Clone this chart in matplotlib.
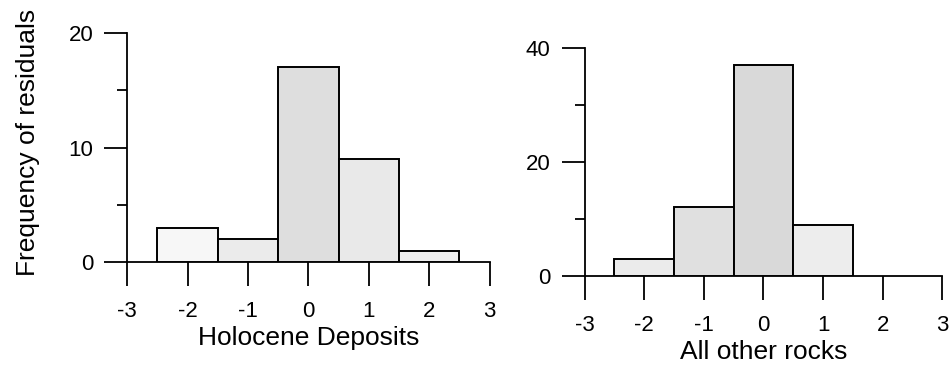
import matplotlib.pyplot as plt
from matplotlib.ticker import MultipleLocator

plt.rcParams['font.family'] = ['Liberation Sans', 'DejaVu Sans']

# residual classes (bin centres) and counts
holocene_bins = [-2, -1, 0, 1, 2]
holocene_counts = [3, 2, 17, 9, 1]
holocene_fill = ["#f7f7f7", "#ebebeb", "#dedede", "#e9e9e9", "#eeeeee"]

other_bins = [-2, -1, 0, 1]
other_counts = [3, 12, 37, 9]
other_fill = ["#ebebeb", "#e0e0e0", "#d9d9d9", "#ededed"]

xticks = [-3, -2, -1, 0, 1, 2, 3]

fig = plt.figure(figsize=(9.49, 3.81), dpi=100)
ax1 = fig.add_axes([0.134, 0.312, 0.382, 0.601])
ax2 = fig.add_axes([0.616, 0.276, 0.377, 0.598])


def style_axis(ax, ymax, ymajor, yminor, xlabel):
    ax.set_xlim(-3, 3)
    ax.set_ylim(0, ymax)
    for s in ["top", "right"]:
        ax.spines[s].set_visible(False)
    for s in ["left", "bottom"]:
        ax.spines[s].set_linewidth(1.3)
    ax.set_xticks(xticks)
    ax.set_xticklabels([str(t) for t in xticks])
    ax.yaxis.set_major_locator(MultipleLocator(ymajor))
    ax.yaxis.set_minor_locator(MultipleLocator(yminor))
    ax.tick_params(axis="x", direction="out", length=17, width=1.3,
                   pad=11, labelsize=16)
    ax.tick_params(axis="y", which="major", direction="out", length=16.5,
                   width=1.3, pad=8, labelsize=16)
    ax.tick_params(axis="y", which="minor", direction="out", length=7,
                   width=1.3)
    ax.set_xlabel(xlabel, fontsize=19, labelpad=3)


ax1.bar(holocene_bins, holocene_counts, width=1, color=holocene_fill,
        edgecolor="black", linewidth=1.4, zorder=3)
style_axis(ax1, 20, 10, 5, "Holocene Deposits")

ax2.bar(other_bins, other_counts, width=1, color=other_fill,
        edgecolor="black", linewidth=1.4, zorder=3)
style_axis(ax2, 40, 20, 10, "All other rocks")

fig.text(0.029, 0.627, "Frequency of residuals", rotation=90,
         ha="center", va="center", fontsize=19)

fig.savefig("out.png", dpi=100)
